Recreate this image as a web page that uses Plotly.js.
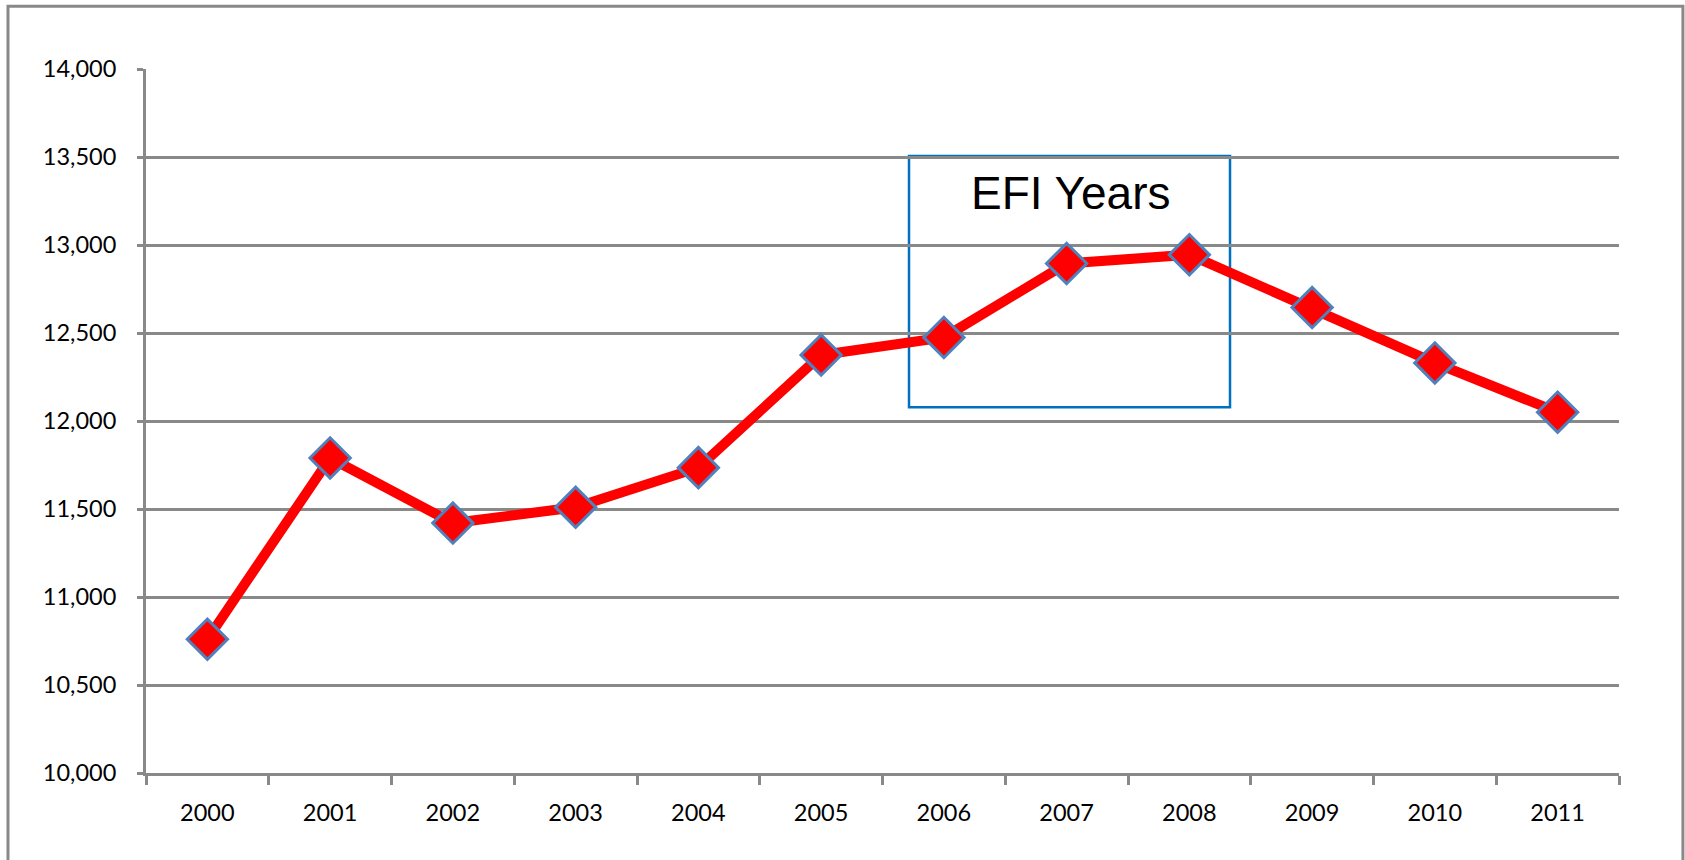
<!DOCTYPE html>
<html>
<head>
<meta charset="utf-8">
<script src="https://cdn.plot.ly/plotly-3.0.1.min.js"></script>
<style>
html, body { margin: 0; padding: 0; background: #ffffff; }
#chart { width: 1685px; height: 860px; }
</style>
</head>
<body>
<div id="chart"></div>
<script>
const years = ['2000','2001','2002','2003','2004','2005','2006','2007','2008','2009','2010','2011'];
const values = [10760, 11790, 11420, 11510, 11735, 12375, 12475, 12895, 12945, 12645, 12330, 12050];
const yTickVals = [10000, 10500, 11000, 11500, 12000, 12500, 13000, 13500, 14000];
const yTickText = ['10,000','10,500','11,000','11,500','12,000','12,500','13,000','13,500','14,000'];
const boxLabel = 'EFI Years';

const gray = '#898989';
const tickFont = {family: 'Lato, "Liberation Sans", sans-serif', size: 23.5, color: '#000000'};

const trace = {
  x: years,
  y: values,
  type: 'scatter',
  mode: 'lines+markers',
  line: {color: '#ff0000', width: 10},
  marker: {symbol: 'diamond', size: 31, color: '#ff0000', line: {color: '#4f81bd', width: 3}},
  hoverinfo: 'x+y',
  showlegend: false
};

const layout = {
  width: 1685,
  height: 860,
  margin: {l: 146, r: 66, t: 69, b: 87},
  paper_bgcolor: '#ffffff',
  plot_bgcolor: '#ffffff',
  showlegend: false,
  xaxis: {
    type: 'category',
    range: [-0.5, 11.5],
    tickson: 'boundaries',
    ticks: 'outside',
    ticklen: 9,
    tickwidth: 3,
    tickcolor: gray,
    showline: true,
    linecolor: gray,
    linewidth: 3,
    showgrid: false,
    zeroline: false,
    tickfont: tickFont,
    ticklabelstandoff: 17,
    fixedrange: true
  },
  yaxis: {
    range: [10000, 14000],
    tickvals: yTickVals,
    ticktext: yTickText,
    ticks: 'outside',
    ticklen: 6,
    tickwidth: 3,
    tickcolor: gray,
    showline: true,
    linecolor: gray,
    linewidth: 3,
    showgrid: true,
    gridcolor: gray,
    gridwidth: 3,
    zeroline: false,
    tickfont: tickFont,
    ticklabelstandoff: 16,
    fixedrange: true
  },
  shapes: [
    {
      type: 'rect', xref: 'paper', yref: 'paper',
      x0: -0.0937, x1: 1.0434, y0: -0.2, y1: 1.089,
      line: {color: gray, width: 3}, fillcolor: 'rgba(0,0,0,0)', layer: 'below'
    },
    {
      type: 'rect', xref: 'x', yref: 'y',
      x0: 5.716, x1: 8.331, y0: 12078, y1: 13505,
      line: {color: '#0070c0', width: 2.5}, fillcolor: 'rgba(0,0,0,0)', layer: 'below'
    }
  ],
  annotations: [
    {
      xref: 'x', yref: 'y', x: 7.03, y: 13294,
      text: boxLabel, showarrow: false,
      font: {family: '"Liberation Sans", Arial, sans-serif', size: 46, color: '#000000'},
      xanchor: 'center', yanchor: 'middle'
    }
  ]
};

Plotly.newPlot('chart', [trace], layout, {displayModeBar: false, staticPlot: true});
</script>
</body>
</html>
